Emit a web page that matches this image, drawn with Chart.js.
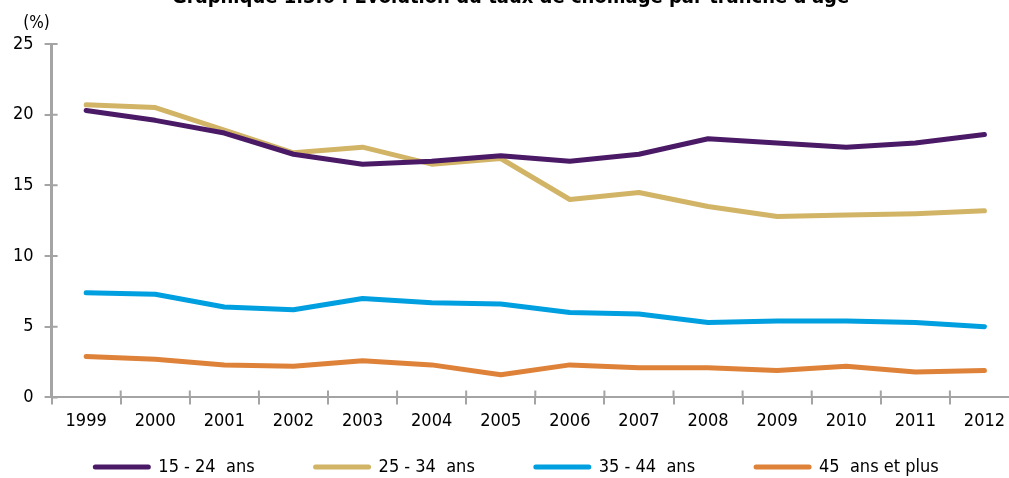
<!DOCTYPE html>
<html>
<head>
<meta charset="utf-8">
<script src="https://cdn.jsdelivr.net/npm/chart.js@4/dist/chart.umd.min.js"></script>
<style>
  body { margin: 0; overflow: hidden; background: #fff; }
  #wrap { width: 1032px; height: 492px; margin-top: -14px; }
</style>
</head>
<body>
<div id="wrap"><canvas id="chomage"></canvas></div>
<script>
var years = ['1999', '2000', '2001', '2002', '2003', '2004', '2005', '2006', '2007', '2008', '2009', '2010', '2011', '2012'];
var age15_24 = [20.3, 19.6, 18.7, 17.2, 16.5, 16.7, 17.1, 16.7, 17.2, 18.3, 18.0, 17.7, 18.0, 18.6];
var age25_34 = [20.7, 20.5, 18.9, 17.3, 17.7, 16.5, 16.9, 14.0, 14.5, 13.5, 12.8, 12.9, 13.0, 13.2];
var age35_44 = [7.4, 7.3, 6.4, 6.2, 7.0, 6.7, 6.6, 6.0, 5.9, 5.3, 5.4, 5.4, 5.3, 5.0];
var age45plus = [2.9, 2.7, 2.3, 2.2, 2.6, 2.3, 1.6, 2.3, 2.1, 2.1, 1.9, 2.2, 1.8, 1.9];
var seriesNames = ['15 - 24  ans', '25 - 34  ans', '35 - 44  ans', '45  ans et plus'];
var yTicks = [0, 5, 10, 15, 20, 25];

var fontFamily = "'Liberation Sans Narrow', 'DejaVu Sans Condensed', sans-serif";
var colors = ['#4b1a66', '#d2b466', '#009fe0', '#de8239'];
var axisGray = '#a4a4a4';

function serie(label, data, color) {
  return {
    label: label,
    data: data,
    borderColor: color,
    backgroundColor: color,
    borderWidth: 5,
    borderCapStyle: 'round',
    borderJoinStyle: 'round',
    pointRadius: 0,
    tension: 0
  };
}

// ticks crossing the axes + "(%)" + legend with evenly spaced items
var extras = {
  id: 'extras',
  beforeDatasetsDraw: function(chart) {
    var ctx = chart.ctx;
    var area = chart.chartArea;
    var x = chart.scales.x;
    var y = chart.scales.y;
    ctx.save();
    ctx.strokeStyle = axisGray;
    ctx.lineWidth = 2;
    ctx.beginPath();
    yTicks.forEach(function(v) {
      var py = y.getPixelForValue(v);
      ctx.moveTo(area.left, py);
      ctx.lineTo(area.left + 6, py);
    });
    var step = x.getPixelForTick(1) - x.getPixelForTick(0);
    for (var i = 1; i <= years.length; i++) {
      var px = x.getPixelForTick(0) - step / 2 + i * step;
      ctx.moveTo(px, area.bottom);
      ctx.lineTo(px, area.bottom - 7);
    }
    ctx.stroke();

    ctx.fillStyle = '#000';
    ctx.font = '17px ' + fontFamily;
    ctx.textAlign = 'center';
    ctx.textBaseline = 'middle';
    ctx.fillText('(%)', area.left - 15, area.top - 20);
    ctx.restore();
  },
  afterDraw: function(chart) {
    var ctx = chart.ctx;
    var sets = chart.data.datasets;
    var lineLen = 57, gap = 8, spacing = 59;
    ctx.save();
    ctx.font = '18px ' + fontFamily;
    var widths = sets.map(function(d) { return lineLen + gap + ctx.measureText(d.label).width; });
    var total = widths.reduce(function(a, b) { return a + b; }, 0) + spacing * (sets.length - 1);
    var cx = chart.width / 2 - total / 2;
    var cy = chart.height - 11;
    sets.forEach(function(d, i) {
      ctx.strokeStyle = d.borderColor;
      ctx.lineWidth = 5;
      ctx.lineCap = 'round';
      ctx.beginPath();
      ctx.moveTo(cx + 2, cy);
      ctx.lineTo(cx + lineLen - 2, cy);
      ctx.stroke();
      ctx.fillStyle = '#000';
      ctx.textAlign = 'left';
      ctx.textBaseline = 'middle';
      ctx.fillText(d.label, cx + lineLen + gap, cy);
      cx += widths[i] + spacing;
    });
    ctx.restore();
  }
};

var ctx = document.getElementById('chomage');
var myLineChart = new Chart(ctx, {
  type: 'line',
  data: {
    labels: years,
    datasets: [
      serie(seriesNames[0], age15_24, colors[0]),
      serie(seriesNames[1], age25_34, colors[1]),
      serie(seriesNames[2], age35_44, colors[2]),
      serie(seriesNames[3], age45plus, colors[3])
    ]
  },
  options: {
    responsive: true,
    maintainAspectRatio: false,
    animation: false,
    layout: { padding: { left: 2, right: 13, top: 0, bottom: 40 } },
    plugins: {
      legend: { display: false },
      tooltip: { enabled: false },
      title: {
        display: true,
        text: "Graphique 1.3.6 : Évolution du taux de chômage par tranche d'âge",
        color: '#000',
        font: { family: fontFamily, size: 20, weight: 'bold' },
        padding: { top: 0, bottom: 34 }
      }
    },
    scales: {
      x: {
        offset: true,
        grid: { offset: true, drawOnChartArea: false, tickLength: 7, color: axisGray, lineWidth: 2 },
        border: { color: axisGray, width: 2 },
        ticks: { color: '#000', padding: 6, maxRotation: 0, font: { family: fontFamily, size: 18 } }
      },
      y: {
        min: 0,
        max: 25,
        afterBuildTicks: function(scale) {
          scale.ticks = yTicks.map(function(v) { return { value: v }; });
        },
        grid: { drawOnChartArea: false, tickLength: 7, color: axisGray, lineWidth: 2 },
        border: { color: axisGray, width: 3 },
        ticks: { color: '#000', padding: 11, font: { family: fontFamily, size: 18 } }
      }
    }
  },
  plugins: [extras]
});
</script>
</body>
</html>
